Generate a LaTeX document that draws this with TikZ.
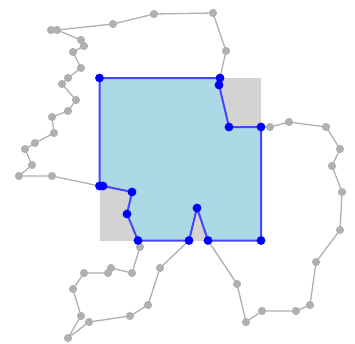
\documentclass[tikz,border=0pt]{standalone}
\usepackage{tikz}
\usetikzlibrary{calc}
\definecolor{ringgray}{RGB}{176,176,176}
\definecolor{boxgray}{RGB}{211,211,211}
\definecolor{cutblue}{RGB}{173,216,230}
\definecolor{edgeblue}{RGB}{70,70,255}
\begin{document}
\begin{tikzpicture}[x=1pt,y=-1pt]
  \useasboundingbox (0,0) rectangle (355,343);
  % clip square behind the cut polygon
  \fill[boxgray] (99.5,78) rectangle (261,240.5);
  \fill[cutblue] (99.5,78) -- (220,78) -- (219,85) -- (229,127) -- (261,127) -- (261,240.5) -- (208,240.5) -- (197,208) -- (189,240.5) -- (138,240.5) -- (127,214) -- (132,192) -- (103,186) -- (99.5,186) -- cycle;
  % outside pieces of the outline
  \draw[ringgray,line width=1.3pt] (220,78) -- (226,51) -- (213,13) -- (154,14) -- (113,24) -- (57,30) -- (51,30) -- (57,30) -- (81,40) -- (84,46) -- (73,52) -- (81,68) -- (68,78) -- (62,84) -- (76,100) -- (68,111) -- (52,117) -- (54,133) -- (35,143) -- (25,149) -- (32,165) -- (19,176) -- (52,176) -- (99.5,186);
  \draw[ringgray,line width=1.3pt] (138,240.5) -- (140,247) -- (132,273) -- (111,268) -- (108,273) -- (84,273) -- (73,289) -- (81,316) -- (68,338) -- (89,322) -- (130,316) -- (148,305) -- (160,268) -- (189,240.5);
  \draw[ringgray,line width=1.3pt] (208,240.5) -- (237,284) -- (246,322) -- (262,311) -- (296,311) -- (310,305) -- (316,262) -- (340,230) -- (342,192) -- (332,166) -- (340,149) -- (326,127) -- (289,122) -- (270,127) -- (261,127);
  \foreach \px/\py in {226/51,213/13,154/14,113/24,57/30,51/30,81/40,84/46,73/52,81/68,68/78,62/84,76/100,68/111,52/117,54/133,35/143,25/149,32/165,19/176,52/176,140/247,132/273,111/268,108/273,84/273,73/289,81/316,68/338,89/322,130/316,148/305,160/268,237/284,246/322,262/311,296/311,310/305,316/262,340/230,342/192,332/166,340/149,326/127,289/122,270/127}
    \fill[ringgray] (\px,\py) circle (4.1pt);
  % cut polygon edges
  \draw[edgeblue,line width=2pt,line join=round] (99.5,78) -- (220,78) -- (219,85) -- (229,127) -- (261,127) -- (261,240.5) -- (208,240.5) -- (197,208) -- (189,240.5) -- (138,240.5) -- (127,214) -- (132,192) -- (103,186) -- (99.5,186) -- cycle;
  \foreach \px/\py in {99.5/78,220/78,219/85,229/127,261/127,261/240.5,208/240.5,197/208,189/240.5,138/240.5,127/214,132/192,103/186,99.5/186}
    \fill[blue] (\px,\py) circle (4.4pt);
\end{tikzpicture}
\end{document}
